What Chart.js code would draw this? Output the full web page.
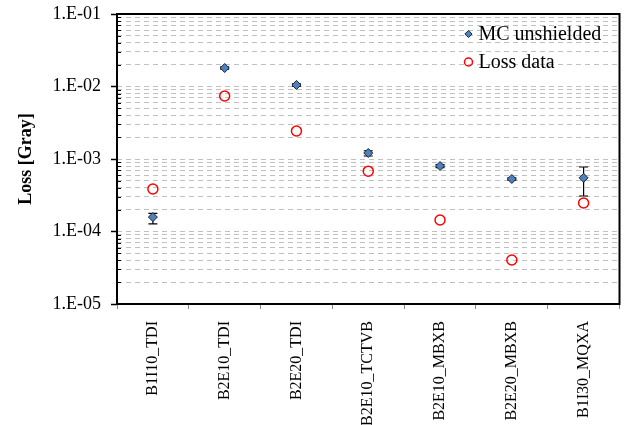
<!DOCTYPE html>
<html>
<head>
<meta charset="utf-8">
<script src="https://cdn.jsdelivr.net/npm/chart.js@4"></script>
<style>
  html, body { margin: 0; padding: 0; background: #fff; }
  #wrap { width: 626px; height: 425px; }
</style>
</head>
<body>
<div id="wrap"><canvas id="myChart" width="626" height="425"></canvas></div>
<script>
// positions along the beam line
const locations = ['B1I10_TDI', 'B2E10_TDI', 'B2E20_TDI', 'B2E10_TCTVB', 'B2E10_MBXB', 'B2E20_MBXB', 'B1I30_MQXA'];

// MC unshielded with error bar limits
const mcValues = [1.58e-4, 1.80e-2, 1.05e-2, 1.21e-3, 8.0e-4, 5.3e-4, 5.5e-4];
const mcLow    = [1.27e-4, 1.74e-2, 1.01e-2, 1.10e-3, 7.6e-4, 5.1e-4, 3.09e-4];
const mcHigh   = [1.78e-4, 1.86e-2, 1.09e-2, 1.30e-3, 8.4e-4, 5.5e-4, 7.76e-4];

// measured losses
const lossValues = [3.86e-4, 7.4e-3, 2.43e-3, 6.8e-4, 1.44e-4, 4.05e-5, 2.47e-4];

// decades shown on the y axis
const decades = [-5, -4, -3, -2, -1];

const serif = "'Liberation Serif', 'Times New Roman', serif";

const isDecade = v => Math.abs(Math.log10(v) - Math.round(Math.log10(v))) < 1e-9;

const errorBars = {
    id: 'errorBars',
    beforeDatasetsDraw(chart) {
        const c = chart.ctx;
        const xs = chart.scales.x, ys = chart.scales.y;
        const area = chart.chartArea;
        c.save();
        // minor ticks pointing inside the plot
        c.strokeStyle = '#000';
        c.lineWidth = 1;
        ys.ticks.forEach(t => {
            if (isDecade(t.value)) return;
            const y = Math.round(ys.getPixelForValue(t.value)) + 0.5;
            c.beginPath();
            c.moveTo(area.left, y);
            c.lineTo(area.left + 4, y);
            c.stroke();
        });
        // plot frame
        c.lineWidth = 2;
        c.strokeRect(area.left, area.top, area.right - area.left, area.bottom - area.top);
        // error bars
        c.lineWidth = 1.2;
        mcValues.forEach((v, i) => {
            const x = xs.getPixelForValue(i);
            const y1 = ys.getPixelForValue(mcLow[i]);
            const y2 = ys.getPixelForValue(mcHigh[i]);
            c.beginPath();
            c.moveTo(x, y1); c.lineTo(x, y2);
            c.moveTo(x - 4.5, y1); c.lineTo(x + 4.5, y1);
            c.moveTo(x - 4.5, y2); c.lineTo(x + 4.5, y2);
            c.stroke();
        });
        c.restore();
    },
    afterDraw(chart) {
        // legend inside the plot, top right
        const c = chart.ctx;
        const area = chart.chartArea;
        const lx = area.right - 151;
        c.save();
        c.font = '20px ' + serif;
        c.textBaseline = 'middle';
        chart.data.datasets.forEach((ds, i) => {
            const ly = area.top + 20 + i * 28;
            c.fillStyle = ds.backgroundColor;
            c.strokeStyle = ds.borderColor;
            c.lineWidth = ds.borderWidth;
            Chart.helpers.drawPoint(c, {
                pointStyle: ds.pointStyle,
                radius: ds.pointRadius * 0.8,
                borderWidth: ds.borderWidth
            }, lx, ly);
            c.fillStyle = '#000';
            c.fillText(ds.label, lx + 10, ly + 1);
        });
        c.restore();
    }
};

const ctx = document.getElementById('myChart').getContext('2d');

let myChart = new Chart(ctx, {
    type: 'line',
    data: {
        labels: locations,
        datasets: [
            {
                label: 'MC unshielded',
                data: mcValues,
                showLine: false,
                pointStyle: 'rectRot',
                pointRadius: 4.5,
                pointHoverRadius: 4.5,
                backgroundColor: '#4F81BD',
                borderColor: '#17243A',
                borderWidth: 1
            },
            {
                label: 'Loss data',
                data: lossValues,
                showLine: false,
                pointStyle: 'circle',
                pointRadius: 5,
                pointHoverRadius: 5,
                backgroundColor: 'rgba(255,255,255,0)',
                borderColor: '#FF0000',
                borderWidth: 1.5
            }
        ]
    },
    options: {
        responsive: false,
        animation: false,
        layout: { padding: { left: 0, top: 14, right: 6, bottom: 0 } },
        plugins: {
            legend: { display: false },
            tooltip: { enabled: false }
        },
        scales: {
            x: {
                type: 'category',
                offset: true,
                grid: {
                    offset: true,
                    drawOnChartArea: false,
                    drawTicks: true,
                    tickLength: 5,
                    tickColor: '#888'
                },
                border: { display: false },
                ticks: {
                    minRotation: 90,
                    maxRotation: 90,
                    autoSkip: false,
                    padding: 12,
                    color: '#000',
                    font: { family: serif, size: 16 }
                },
                afterFit(scale) { scale.height = 121; }
            },
            y: {
                type: 'logarithmic',
                min: 1e-5,
                max: 1e-1,
                afterBuildTicks(scale) {
                    const ticks = [];
                    decades.forEach(e => {
                        const steps = e === decades[decades.length - 1] ? [1] : [1, 2, 3, 4, 5, 6, 7, 8, 9];
                        steps.forEach(s => ticks.push({ value: s * Math.pow(10, e), major: s === 1 }));
                    });
                    scale.ticks = ticks;
                },
                grid: {
                    color: '#C0C0C0',
                    lineWidth: 1,
                    drawTicks: true,
                    tickLength: 6,
                    tickBorderDash: [],
                    tickWidth: 1.5,
                    tickColor: c => (c.tick && isDecade(c.tick.value)) ? '#000' : 'rgba(0,0,0,0)'
                },
                border: { display: false, dash: [5, 4] },
                ticks: {
                    autoSkip: false,
                    padding: 10,
                    color: '#000',
                    font: { family: serif, size: 18 },
                    callback: v => {
                        if (!isDecade(v)) return '';
                        const e = Math.round(Math.log10(v));
                        return '1.E' + (e < 0 ? '-' : '+') + String(Math.abs(e)).padStart(2, '0');
                    }
                },
                title: {
                    display: true,
                    text: 'Loss [Gray]',
                    color: '#000',
                    font: { family: serif, size: 18, weight: 'bold' },
                    padding: { top: 16, bottom: 0 }
                },
                afterFit(scale) {
                    scale.width = 117;
                    scale.paddingTop = 0;
                    scale.paddingBottom = 0;
                }
            }
        }
    },
    plugins: [errorBars]
});
</script>
</body>
</html>
